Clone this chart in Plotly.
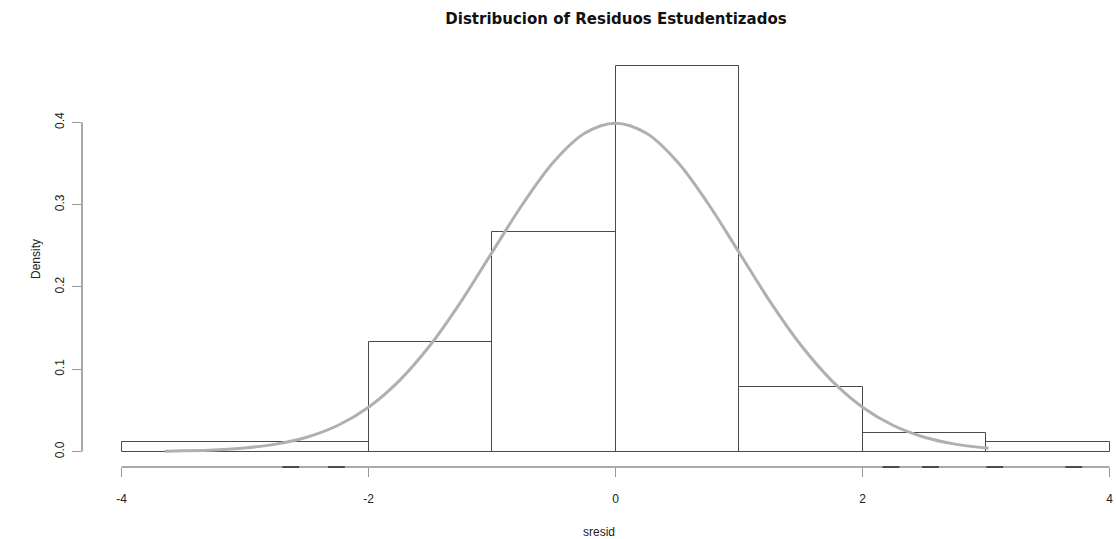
import plotly.graph_objects as go

# Histogram data
breaks = [-4, -2, -1, 0, 1, 2, 3, 4]
density = [0.0113, 0.133, 0.267, 0.468, 0.078, 0.0225, 0.0113]

# Normal density curve
curve_x = [-3.65, -3.5, -3.25, -3.0, -2.75, -2.5, -2.25, -2.0, -1.75, -1.5, -1.25, -1.0,
           -0.75, -0.5, -0.25, 0.0, 0.25, 0.5, 0.75, 1.0, 1.25, 1.5, 1.75, 2.0, 2.25,
           2.5, 2.75, 3.02]
curve_y = [0.0005, 0.0009, 0.002, 0.0044, 0.0091, 0.0175, 0.0317, 0.054, 0.0863, 0.1295,
           0.1826, 0.242, 0.3011, 0.3521, 0.3867, 0.3989, 0.3867, 0.3521, 0.3011, 0.242,
           0.1826, 0.1295, 0.0863, 0.054, 0.0317, 0.0175, 0.0091, 0.0042]

# Rug positions
rug_x = [-2.63, -2.26, 2.23, 2.55, 3.07, 3.71]

x_ticks = [-4, -2, 0, 2, 4]
y_ticks = [0.0, 0.1, 0.2, 0.3, 0.4]
y_ticklabels = ["0.0", "0.1", "0.2", "0.3", "0.4"]

centers = [(a + b) / 2 for a, b in zip(breaks[:-1], breaks[1:])]
widths = [b - a for a, b in zip(breaks[:-1], breaks[1:])]

fig = go.Figure()
fig.add_trace(go.Bar(
    x=centers, y=density, width=widths,
    marker=dict(color="rgba(255,255,255,0)", line=dict(color="#4a4a4a", width=1)),
    hoverinfo="skip", showlegend=False,
))
fig.add_trace(go.Scatter(
    x=curve_x, y=curve_y, mode="lines", line=dict(color="#b0b0b0", width=3, shape="spline"),
    showlegend=False, hoverinfo="skip",
))
y_lo, y_hi = -0.0187, 0.4867
fig.add_trace(go.Scatter(
    x=rug_x, y=[y_lo] * len(rug_x), mode="markers",
    marker=dict(symbol="line-ew", size=12, line=dict(color="#444444", width=2)),
    showlegend=False, hoverinfo="skip", cliponaxis=False,
))

font = dict(family="Liberation Sans, Arial, sans-serif", size=12, color="#222222")

fig.update_layout(
    width=1116, height=539,
    margin=dict(l=82, r=0, t=51, b=72),
    paper_bgcolor="white", plot_bgcolor="white",
    font=font,
    title=dict(text="<b>Distribucion of Residuos Estudentizados</b>",
               x=616 / 1116, xref="container", xanchor="center",
               y=1 - 19 / 539, yref="container", yanchor="middle",
               font=dict(family="DejaVu Sans, Liberation Sans, sans-serif", size=15, color="#111111")),
    bargap=0,
    xaxis=dict(range=[-4.32, 4.052], tickvals=x_ticks, ticktext=[str(v) for v in x_ticks],
               ticks="outside", ticklen=9, tickcolor="#999999", tickwidth=1,
               ticklabelstandoff=12, automargin=False,
               showline=False, showgrid=False, zeroline=False,
               title=dict(text="sresid", standoff=31, font=font)),
    yaxis=dict(range=[y_lo, y_hi], tickvals=y_ticks, ticktext=y_ticklabels, tickangle=-90,
               ticks="outside", ticklen=9, tickcolor="#999999", tickwidth=1,
               ticklabelstandoff=3, automargin=False,
               showline=False, showgrid=False, zeroline=False,
               title=dict(text="Density", standoff=10, font=font)),
    shapes=[
        dict(type="line", xref="x", yref="paper", x0=x_ticks[0], x1=x_ticks[-1], y0=0, y1=0,
             line=dict(color="#555555", width=1)),
        dict(type="line", xref="paper", yref="y", x0=0, x1=0, y0=y_ticks[0], y1=y_ticks[-1],
             line=dict(color="#555555", width=1)),
    ],
)

fig.write_html("out.html")
